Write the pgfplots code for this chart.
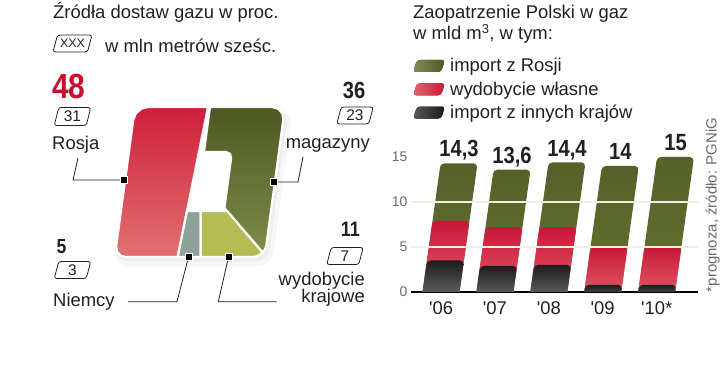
\documentclass[border=0pt]{standalone}
\usepackage{pgfplots}
\pgfplotsset{compat=1.18}
\usepackage{fontspec}
\setmainfont{Liberation Sans}
\newfontfamily\numfont[FakeStretch=0.86]{Liberation Sans}
\newcommand\fs[1]{\fontsize{#1}{#1}\selectfont}
\definecolor{txt}{HTML}{231F20}
\definecolor{crim}{HTML}{C8102E}
\definecolor{redtop}{HTML}{CF1E3B}
\definecolor{redbot}{HTML}{E07270}
\definecolor{grntop}{HTML}{4D5822}
\definecolor{grnbot}{HTML}{7E8B48}
\definecolor{lgrn}{HTML}{B3BD54}
\definecolor{gry}{HTML}{8EA29A}
\definecolor{bgrn}{HTML}{56612A}
\definecolor{bgrnb}{HTML}{66712F}
\definecolor{bredt}{HTML}{C9173A}
\definecolor{bredb}{HTML}{E5646A}
\definecolor{bblkt}{HTML}{1C1C1C}
\definecolor{bblkb}{HTML}{6E6E6E}
\definecolor{gridc}{HTML}{F3F1DE}
\definecolor{tickc}{HTML}{6A6A6A}
\tikzset{
  boxl/.style={draw=txt, line width=0.8bp, rounded corners=2.5bp},
  boxt/.style={font=\fs{15.5}, text=txt, inner sep=0pt},
  piece/.style={draw=white, line width=2.2bp, line join=round},
  bar/.style={draw=none, rounded corners=4bp},
  mk/.style={fill=black, draw=white, line width=1bp},
  lead/.style={draw=txt, line width=0.8bp},
}
\begin{document}
\begin{tikzpicture}
\useasboundingbox (0,0) rectangle (720bp,369bp);
% ---------------- left panel (canvas in pixel units) ----------------
\begin{axis}[at={(0bp,0bp)}, anchor=south west, scale only axis,
  width=720bp, height=369bp, xmin=0, xmax=720, ymin=0, ymax=369,
  y dir=reverse, hide axis, clip=false]
% soft shadow
\addplot[draw=black!3, fill=black!3, line width=9bp, line join=round, xshift=3bp, yshift=-5bp] coordinates {(133.25,120) (135.86,113.5) (141.27,108.74) (148,107) (272,107) (278.27,108.74) (282.38,113.5) (283.25,120) (266.37,245) (265.10,249.1) (262.68,252.55) (258.97,255.39) (255.91,256.59) (252.75,257) (125.75,257) (120.45,255.53) (116.96,251.5) (116.23,246)} -- cycle;
\addplot[draw=black!7, fill=black!7, line width=3bp, line join=round, xshift=2bp, yshift=-3bp] coordinates {(133.25,120) (135.86,113.5) (141.27,108.74) (148,107) (272,107) (278.27,108.74) (282.38,113.5) (283.25,120) (266.37,245) (265.10,249.1) (262.68,252.55) (258.97,255.39) (255.91,256.59) (252.75,257) (125.75,257) (120.45,255.53) (116.96,251.5) (116.23,246)} -- cycle;
% white hole
\addplot[draw=none, fill=white] coordinates {(208,107) (210,107) (203.93,152) (225.93,152) (229.93,153.76) (231.12,158) (224.37,208) (226.96,211) (186.99,211)} -- cycle;
% Rosja
\addplot[piece, top color=redtop, bottom color=redbot] coordinates {(133.25,120) (135.86,113.5) (141.27,108.74) (148,107) (208,107) (177.75,257) (125.75,257) (120.45,255.53) (116.96,251.5) (116.23,246)} -- cycle;
% magazyny
\addplot[piece, top color=grntop, bottom color=grnbot] coordinates {(210,107) (272,107) (278.27,108.74) (282.38,113.5) (283.25,120) (266.37,245) (265.10,249.1) (262.68,252.55) (224.37,208) (231.12,158) (229.93,153.76) (225.93,152) (203.93,152)} -- cycle;
% wydobycie krajowe
\addplot[piece, fill=lgrn] coordinates {(200.56,211) (226.96,211) (262.68,252.55) (258.97,255.39) (255.91,256.59) (252.75,257) (200.5,257)} -- cycle;
% Niemcy
\addplot[piece, fill=gry] coordinates {(186.99,211) (200.56,211) (200.5,257) (177.7,257)} -- cycle;
% leaders
\draw[lead] (axis cs:78,158) -- (axis cs:73,180) -- (axis cs:122,180);
\draw[lead] (axis cs:303,157) -- (axis cs:298,182) -- (axis cs:274,182);
\draw[lead] (axis cs:128,301.7) -- (axis cs:177,301.7) -- (axis cs:188.5,257);
\draw[lead] (axis cs:228.5,257) -- (axis cs:218.3,301.7) -- (axis cs:276.7,301.7);
\filldraw[mk] (axis cs:120.5,176.5) rectangle (axis cs:127.5,183.5);
\filldraw[mk] (axis cs:270.5,178.5) rectangle (axis cs:277.5,185.5);
\filldraw[mk] (axis cs:185,253.5) rectangle (axis cs:192,260.5);
\filldraw[mk] (axis cs:225,253.5) rectangle (axis cs:232,260.5);
% boxes
\draw[boxl] (axis cs:72.5,43.5) ++(-19.5bp,-8.5bp) -- ++(34.5bp,0bp) -- ++(4.5bp,17bp) -- ++(-34.5bp,0bp) -- cycle;
\node[boxt, font=\fs{12.5}] at (axis cs:72.5,43.5) {XXX};
\draw[boxl] (axis cs:72.5,116.5) ++(-18.25bp,-9bp) -- ++(32bp,0bp) -- ++(4.5bp,18bp) -- ++(-32bp,0bp) -- cycle;
\node[boxt] at (axis cs:72.5,116.5) {31};
\draw[boxl] (axis cs:355,115.5) ++(-18.25bp,-8.5bp) -- ++(32bp,0bp) -- ++(4.5bp,17bp) -- ++(-32bp,0bp) -- cycle;
\node[boxt] at (axis cs:355,115.5) {23};
\draw[boxl] (axis cs:345,256) ++(-18.25bp,-8.5bp) -- ++(32bp,0bp) -- ++(4.5bp,17bp) -- ++(-32bp,0bp) -- cycle;
\node[boxt] at (axis cs:345,256) {7};
\draw[boxl] (axis cs:72.5,270) ++(-18.25bp,-8.5bp) -- ++(32bp,0bp) -- ++(4.5bp,17bp) -- ++(-32bp,0bp) -- cycle;
\node[boxt] at (axis cs:72.5,270) {3};
% texts left
\node[anchor=base west, font=\fs{18.5}, text=txt, inner sep=0] at (axis cs:53,19) {Źródła dostaw gazu w proc.};
\node[anchor=base west, font=\fs{18.5}, text=txt, inner sep=0] at (axis cs:105,53) {w mln metrów sześc.};
\node[anchor=base west, font=\numfont\bfseries\fs{35}, text=crim, inner sep=0] at (axis cs:52,98) {48};
\node[anchor=base west, font=\fs{18.5}, text=txt, inner sep=0] at (axis cs:52,149.5) {Rosja};
\node[anchor=base east, font=\numfont\bfseries\fs{23.5}, text=txt, inner sep=0] at (axis cs:365.5,98.3) {36};
\node[anchor=base east, font=\fs{18.5}, text=txt, inner sep=0] at (axis cs:370,148.5) {magazyny};
\node[anchor=base east, font=\numfont\bfseries\fs{21}, text=txt, inner sep=0] at (axis cs:360,236.5) {11};
\node[anchor=base east, font=\fs{18.5}, text=txt, inner sep=0] at (axis cs:365,285) {wydobycie};
\node[anchor=base east, font=\fs{18.5}, text=txt, inner sep=0] at (axis cs:365,302) {krajowe};
\node[anchor=base west, font=\numfont\bfseries\fs{20.5}, text=txt, inner sep=0] at (axis cs:56.5,253.3) {5};
\node[anchor=base west, font=\fs{18.5}, text=txt, inner sep=0] at (axis cs:53,306) {Niemcy};
% texts right
\node[anchor=base west, font=\fs{18.5}, text=txt, inner sep=0] at (axis cs:413,18.5) {Zaopatrzenie Polski w gaz};
\node[anchor=base west, font=\fs{18.5}, text=txt, inner sep=0] at (axis cs:413,39.3) {w mld m\textsuperscript{3}, w tym:};
\fill[rounded corners=3bp, left color=bgrnb!80!white, right color=grntop] (axis cs:413,72) -- (axis cs:441,72) -- (axis cs:445,60) -- (axis cs:417,60) -- cycle;
\fill[rounded corners=3bp, left color=bredb, right color=bredt] (axis cs:413,95.3) -- (axis cs:441,95.3) -- (axis cs:445,83.3) -- (axis cs:417,83.3) -- cycle;
\fill[rounded corners=3bp, left color=black!65, right color=black!90] (axis cs:413,118.6) -- (axis cs:441,118.6) -- (axis cs:445,106.6) -- (axis cs:417,106.6) -- cycle;
\node[anchor=base west, font=\fs{18.5}, text=txt, inner sep=0] at (axis cs:450,71.7) {import z Rosji};
\node[anchor=base west, font=\fs{18.5}, text=txt, inner sep=0] at (axis cs:450,95) {wydobycie własne};
\node[anchor=base west, font=\fs{18.5}, text=txt, inner sep=0] at (axis cs:450,118.3) {import z innych krajów};
\node[rotate=90, anchor=base, font=\fs{15}, text=tickc, inner sep=0] at (axis cs:716.5,205) {*prognoza, źródło: PGNiG};
\end{axis}
% ---------------- bar chart ----------------
\begin{axis}[at={(411bp,77bp)}, anchor=south west, scale only axis,
  width=287bp, height=144bp,
  xmin=-0.557, xmax=4.768, ymin=0, ymax=16,
  axis x line*=bottom, axis y line*=left,
  y axis line style={draw=none},
  x axis line style={line width=1.2bp, black},
  xtick={0,1,2,3,4},
  xticklabels={{\textquotesingle06},{\textquotesingle07},{\textquotesingle08},{\textquotesingle09},{\textquotesingle10*}},
  ytick={0,5,10,15},
  major tick length=0pt, tick style={draw=none},
  clip mode=individual,
  /pgf/number format/assume math mode=true,
  yticklabel style={font=\fs{14}, text=tickc},
  xticklabel style={font=\fs{18.5}, text=txt, anchor=base, yshift=-23bp},
]
% '06
\addplot[bar, top color=bgrn, bottom color=bgrnb] coordinates {(-0.3664,-1) (0.3196,-1) (0.6776,14.3) (-0.0084,14.3)} -- cycle;
\addplot[bar, top color=bredt, bottom color=bredb] coordinates {(-0.3664,-1) (0.3196,-1) (0.5279,7.9) (-0.1581,7.9)} -- cycle;
\addplot[bar, top color=bblkt, bottom color=bblkb] coordinates {(-0.3664,-1) (0.3196,-1) (0.4249,3.5) (-0.2611,3.5)} -- cycle;
% '07
\addplot[bar, top color=bgrn, bottom color=bgrnb] coordinates {(0.6336,-1) (1.3196,-1) (1.6612,13.6) (0.9752,13.6)} -- cycle;
\addplot[bar, top color=bredt, bottom color=bredb] coordinates {(0.6336,-1) (1.3196,-1) (1.5115,7.2) (0.8255,7.2)} -- cycle;
\addplot[bar, top color=bblkt, bottom color=bblkb] coordinates {(0.6336,-1) (1.3196,-1) (1.4109,2.9) (0.7249,2.9)} -- cycle;
% '08
\addplot[bar, top color=bgrn, bottom color=bgrnb] coordinates {(1.6336,-1) (2.3196,-1) (2.680,14.4) (1.994,14.4)} -- cycle;
\addplot[bar, top color=bredt, bottom color=bredb] coordinates {(1.6336,-1) (2.3196,-1) (2.5115,7.2) (1.8255,7.2)} -- cycle;
\addplot[bar, top color=bblkt, bottom color=bblkb] coordinates {(1.6336,-1) (2.3196,-1) (2.4132,3.0) (1.7272,3.0)} -- cycle;
% '09
\addplot[bar, top color=bgrn, bottom color=bgrnb] coordinates {(2.6336,-1) (3.3196,-1) (3.6706,14.0) (2.9846,14.0)} -- cycle;
\addplot[bar, top color=bredt, bottom color=bredb] coordinates {(2.6336,-1) (3.3196,-1) (3.460,5.0) (2.774,5.0)} -- cycle;
\addplot[bar, top color=bblkt, bottom color=bblkb] coordinates {(2.6336,-1) (3.3196,-1) (3.3617,0.8) (2.6757,0.8)} -- cycle;
% '10*
\addplot[bar, top color=bgrn, bottom color=bgrnb] coordinates {(3.6336,-1) (4.3196,-1) (4.694,15.0) (4.008,15.0)} -- cycle;
\addplot[bar, top color=bredt, bottom color=bredb] coordinates {(3.6336,-1) (4.3196,-1) (4.460,5.0) (3.774,5.0)} -- cycle;
\addplot[bar, top color=bblkt, bottom color=bblkb] coordinates {(3.6336,-1) (4.3196,-1) (4.3617,0.8) (3.6757,0.8)} -- cycle;
% grid lines on top
\addplot[gridc, line width=1.3bp] coordinates {(-0.557,5) (4.768,5)};
\addplot[gridc, line width=1.3bp] coordinates {(-0.557,10) (4.768,10)};
% value labels
\node[anchor=base, yshift=6.3bp, font=\numfont\bfseries\fs{23.5}, text=txt, inner sep=0] at (axis cs:0.335,14.3) {14,3};
\node[anchor=base, yshift=6.3bp, font=\numfont\bfseries\fs{23.5}, text=txt, inner sep=0] at (axis cs:1.318,13.6) {13,6};
\node[anchor=base, yshift=6.3bp, font=\numfont\bfseries\fs{23.5}, text=txt, inner sep=0] at (axis cs:2.337,14.4) {14,4};
\node[anchor=base, yshift=6.3bp, font=\numfont\bfseries\fs{23.5}, text=txt, inner sep=0] at (axis cs:3.328,14.0) {14};
\node[anchor=base, yshift=6.3bp, font=\numfont\bfseries\fs{23.5}, text=txt, inner sep=0] at (axis cs:4.351,15.0) {15};
\end{axis}
\end{tikzpicture}
\end{document}
